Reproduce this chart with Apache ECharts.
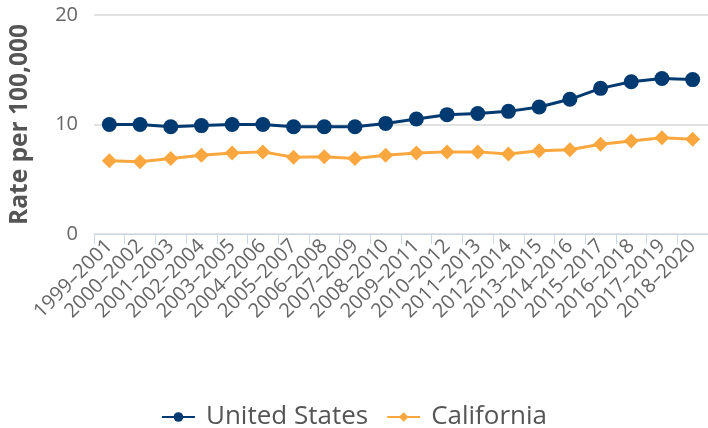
<!DOCTYPE html>
<html lang="en">
<head>
    <meta charset="UTF-8">
    <script src="https://cdn.jsdelivr.net/npm/echarts@6/dist/echarts.min.js"></script>
    <title>Rate per 100,000</title>
    <style>
        body { margin: 0; background: #fff; }
        #chart { width: 708px; height: 428px; }
    </style>
</head>
<body>
    <div id="chart"></div>
<script>
    var periods = ['1999–2001','2000–2002','2001–2003','2002–2004','2003–2005','2004–2006','2005–2007',
        '2006–2008','2007–2009','2008–2010','2009–2011','2010–2012','2011–2013','2012–2014','2013–2015',
        '2014–2016','2015–2017','2016–2018','2017–2019','2018–2020'];
    var unitedStates = [10.0,10.0,9.8,9.9,10.0,10.0,9.8,9.8,9.8,10.1,10.5,10.9,11.0,11.2,11.6,12.3,13.3,13.9,14.2,14.1];
    var california = [6.7,6.6,6.9,7.2,7.4,7.5,7.0,7.05,6.9,7.2,7.4,7.5,7.5,7.3,7.6,7.7,8.2,8.5,8.8,8.65];

    var chart = echarts.init(document.getElementById('chart'));
    chart.setOption({
        animation: false,
        textStyle: { fontFamily: '"Open Sans", "DejaVu Sans", sans-serif' },
        grid: { left: 93, right: 0, top: 15, bottom: 194, containLabel: false },
        legend: {
            top: 399,
            left: 'center',
            itemWidth: 33,
            itemHeight: 12,
            itemGap: 18,
            textStyle: { fontSize: 26, color: '#555', padding: [0, 0, 0, 6] },
            data: ['United States', 'California']
        },
        xAxis: {
            type: 'category',
            data: periods,
            boundaryGap: true,
            axisLine: { lineStyle: { color: '#ccd6eb', width: 1 } },
            axisTick: { show: true, length: 10, lineStyle: { color: '#ccd6eb' } },
            axisLabel: { rotate: 45, interval: 0, fontSize: 20, color: '#666', margin: 9 }
        },
        yAxis: {
            type: 'value',
            min: 0,
            max: 20,
            interval: 10,
            name: 'Rate per 100,000',
            nameLocation: 'middle',
            nameGap: 61,
            nameTextStyle: { fontSize: 24.5, fontWeight: 'bold', color: '#555' },
            axisLine: { show: false },
            axisTick: { show: false },
            axisLabel: { fontSize: 20, color: '#666', margin: 16 },
            splitLine: { lineStyle: { color: '#d8d8d8', width: 1.5 } }
        },
        series: [{
            name: 'United States',
            type: 'line',
            data: unitedStates,
            color: '#003a70',
            symbol: 'circle',
            symbolSize: 15,
            lineStyle: { width: 3 }
        }, {
            name: 'California',
            type: 'line',
            data: california,
            color: '#f9a73e',
            symbol: 'diamond',
            symbolSize: 15,
            lineStyle: { width: 3 }
        }]
    });
</script>
</body>
</html>
